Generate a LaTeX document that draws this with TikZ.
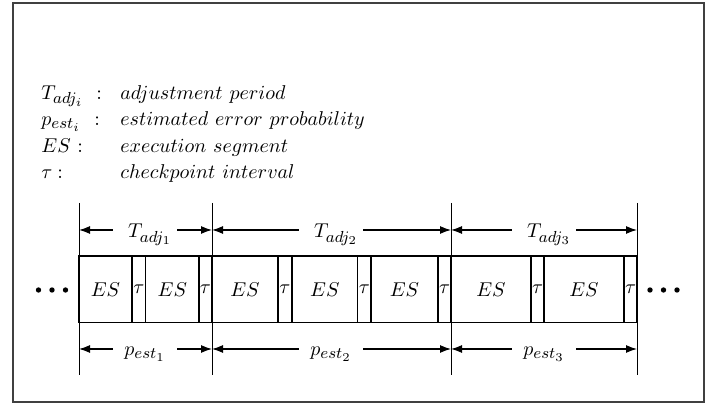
\documentclass[tikz,border=0pt]{standalone}
\usetikzlibrary{arrows.meta}
\DeclareMathSizes{10.4}{10.4}{8.5}{6.5}
\begin{document}
\begin{tikzpicture}[x=0.5pt,y=-0.5pt,
  font=\fontsize{10.4}{12.5}\selectfont,
  frame/.style={draw=black!75, line width=1pt},
  cell/.style={draw, line width=0.6pt},
  thickv/.style={line width=1.1pt},
  guide/.style={line width=0.5pt},
  dim/.style={line width=0.6pt, -{Latex[length=5.5pt,width=4pt]}},
  lab/.style={inner xsep=0pt, inner ysep=0pt, anchor=base, minimum width=32pt},
  leg/.style={inner sep=0pt, anchor=base west},
  dot/.style={circle, fill, inner sep=0pt, minimum size=2.7pt}]
\useasboundingbox (0,0) rectangle (718,405);
\draw[frame] (12.5,3.5) rectangle (703.5,402.5);

% legend
\node[leg] (k1) at (41,99.7) {$T_{adj_i}$};
\node[leg] (k2) at (41,125.7) {$p_{est_i}$};
\node[leg] (k3) at (41,152.7) {$ES$};
\node[leg] (k4) at (41,178.7) {$\tau$};
\node[leg] (c1) at (96,99.7) {$:$};
\node[leg] (c2) at (94,125.7) {$:$};
\node[leg] (c3) at (77,152.7) {$:$};
\node[leg] (c4) at (57,178.7) {$:$};
\node[leg] (v1) at (120,99.7) {$adjustment\ period$};
\node[leg] (v2) at (120,125.7) {$estimated\ error\ probability$};
\node[leg] (v3) at (120,152.7) {$execution\ segment$};
\node[leg] (v4) at (120,178.7) {$checkpoint\ interval$};

% cells
\foreach \a/\b/\t/\n in {79/132/ES/e1, 132/145.7/\tau/e2, 145.7/199/ES/e3, 199/212/\tau/e4,
  212/278/ES/e5, 278/292/\tau/e6, 292/357.7/ES/e7, 357.7/371/\tau/e8, 371/438/ES/e9, 438/451/\tau/e10,
  451/531/ES/e11, 531/544/\tau/e12, 544/624/ES/e13, 624/637/\tau/e14}{
  \draw[cell] (\a,256) rectangle (\b,322.7);
  \node[inner sep=0pt] (\n) at ({(\a+\b)/2},289.35) {$\t$};
}
\foreach \x in {79,199,292,438,531,624}{
  \draw[thickv] (\x,256) -- (\x,322.7);
}

% guide lines
\foreach \x/\n in {79/g0,212/g1,451/g2,637/g3}{
  \coordinate (\n t) at (\x,203);
  \coordinate (\n b) at (\x,375);
  \draw[guide] (\n t) -- (\n b);
  \coordinate (\n u) at (\x,230);
  \coordinate (\n d) at (\x,349);
}

% dimension labels
\node[lab] (T1) at (145,238) {\hspace{5pt}$T_{adj_1}$};
\node[lab] (T2) at (331,238) {\hspace{5pt}$T_{adj_2}$};
\node[lab] (T3) at (544,238) {\hspace{5pt}$T_{adj_3}$};
\node[lab] (P1) at (145,356) {$p_{est_1}$};
\node[lab] (P2) at (331,356) {$p_{est_2}$};
\node[lab] (P3) at (544,356) {$p_{est_3}$};

\draw[dim] (g0u -| T1.west) -- (g0u);
\draw[dim] (g0u -| T1.east) -- (g1u);
\draw[dim] (g1u -| T2.west) -- (g1u);
\draw[dim] (g1u -| T2.east) -- (g2u);
\draw[dim] (g2u -| T3.west) -- (g2u);
\draw[dim] (g2u -| T3.east) -- (g3u);
\draw[dim] (g0d -| P1.west) -- (g0d);
\draw[dim] (g0d -| P1.east) -- (g1d);
\draw[dim] (g1d -| P2.west) -- (g1d);
\draw[dim] (g1d -| P2.east) -- (g2d);
\draw[dim] (g2d -| P3.west) -- (g2d);
\draw[dim] (g2d -| P3.east) -- (g3d);

% dots
\node[dot] (l1) at (38.5,290) {};
\node[dot] (l2) at (52,290) {};
\node[dot] (l3) at (65.5,290) {};
\node[dot] (r1) at (650,290) {};
\node[dot] (r2) at (663.5,290) {};
\node[dot] (r3) at (677,290) {};
\end{tikzpicture}
\end{document}
